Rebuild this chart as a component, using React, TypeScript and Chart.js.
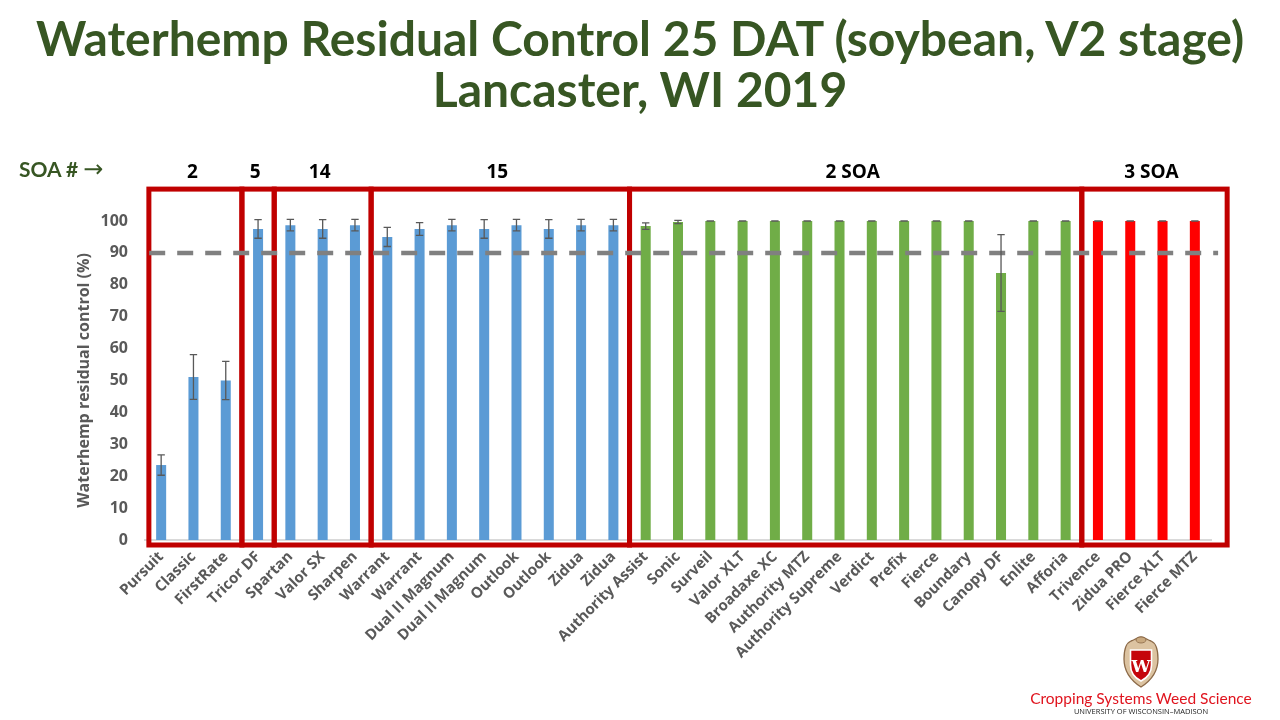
import React, { useEffect, useRef } from "react";
import { Chart, registerables } from "chart.js";

Chart.register(...registerables);

// ---------- data ----------
const categories = [
  "Pursuit", "Classic", "FirstRate", "Tricor DF", "Spartan", "Valor SX", "Sharpen",
  "Warrant", "Warrant", "Dual II Magnum", "Dual II Magnum", "Outlook", "Outlook", "Zidua", "Zidua",
  "Authority Assist", "Sonic", "Surveil", "Valor XLT", "Broadaxe XC", "Authority MTZ",
  "Authority Supreme", "Verdict", "Prefix", "Fierce", "Boundary", "Canopy DF", "Enlite", "Afforia",
  "Trivence", "Zidua PRO", "Fierce XLT", "Fierce MTZ",
];

const controlValues = [
  23.5, 51.1, 50, 97.5, 98.7, 97.5, 98.7, 95, 97.5, 98.7, 97.5, 98.7, 97.5, 98.7, 98.7,
  98.4, 99.7, 100, 100, 100, 100, 100, 100, 100, 100, 100, 83.7, 100, 100,
  100, 100, 100, 100,
];

const errorValues = [
  3.2, 7, 6, 2.9, 1.8, 2.9, 1.8, 3, 2, 1.8, 2.9, 1.8, 2.9, 1.8, 1.8,
  1, 0.5, 0, 0, 0, 0, 0, 0, 0, 0, 0, 12, 0, 0,
  0, 0, 0, 0,
];

const groupLabels = ["2", "5", "14", "15", "2 SOA", "3 SOA"];
const groupStart = [0, 3, 4, 7, 15, 29];
const groupEnd = [2, 3, 6, 14, 28, 32];

const thresholdValue = 90;
const yTicks = [0, 10, 20, 30, 40, 50, 60, 70, 80, 90, 100];

// ---------- styles ----------
const groupColors = ["#5B9BD5", "#5B9BD5", "#5B9BD5", "#5B9BD5", "#70AD47", "#FF0000"];
const BOX_COLOR = "#C00000";
const TITLE_GREEN = "#375623";
const AXIS_GRAY = "#595959";

const barColors = categories.map((_, i) => {
  let g = 0;
  groupStart.forEach((s, k) => {
    if (i >= s) g = k;
  });
  return groupColors[g];
});

const overlayPlugin = {
  id: "overlay",
  afterDatasetsDraw(chart: any) {
    const { ctx } = chart;
    const x = chart.scales.x;
    const y = chart.scales.y;
    ctx.save();

    // group boxes
    const boxTop = y.getPixelForValue(110);
    const boxBottom = y.getPixelForValue(0) + 5;
    ctx.strokeStyle = BOX_COLOR;
    ctx.lineWidth = 5;
    ctx.lineJoin = "miter";
    const last = groupStart.length - 1;
    groupStart.forEach((s, i) => {
      const l = x.getPixelForValue(i === 0 ? s - 0.38 : s - 0.5);
      const r = x.getPixelForValue(i === last ? groupEnd[i] + 1.0 : groupEnd[i] + 0.5);
      ctx.strokeRect(l, boxTop, r - l, boxBottom - boxTop);
      ctx.fillStyle = "#000";
      ctx.font = "bold 19px 'Open Sans'";
      ctx.textAlign = "center";
      ctx.textBaseline = "middle";
      ctx.fillText(groupLabels[i], (l + r) / 2 - 3, y.getPixelForValue(115.3));
    });

    // threshold dashed line
    const ty = y.getPixelForValue(thresholdValue);
    ctx.beginPath();
    ctx.setLineDash([16, 12]);
    ctx.lineCap = "butt";
    ctx.strokeStyle = "#808080";
    ctx.lineWidth = 4.5;
    ctx.moveTo(x.getPixelForValue(-0.37), ty);
    ctx.lineTo(x.getPixelForValue(32.72), ty);
    ctx.stroke();
    ctx.setLineDash([]);

    // error bars
    ctx.strokeStyle = "#595959";
    ctx.lineWidth = 1.3;
    controlValues.forEach((v, i) => {
      const e = errorValues[i];
      const cx = x.getPixelForValue(i);
      const yt = y.getPixelForValue(v + e);
      const yb = y.getPixelForValue(v - e);
      ctx.beginPath();
      ctx.moveTo(cx, yt);
      ctx.lineTo(cx, yb);
      ctx.moveTo(cx - 3.7, yt);
      ctx.lineTo(cx + 3.7, yt);
      ctx.moveTo(cx - 3.7, yb);
      ctx.lineTo(cx + 3.7, yb);
      ctx.stroke();
    });
    ctx.restore();
  },
};

function Crest() {
  return (
    <svg width="38" height="54" viewBox="0 0 38 54" style={{ position: "absolute", left: 1122, top: 635 }}>
      <path
        d="M19 2 C23 2 25 5 29 6 C34 8 36 15 36 24 C36 36 30 45 19 52 C8 45 2 36 2 24 C2 15 4 8 9 6 C13 5 15 2 19 2 Z"
        fill="#DCC3A1"
        stroke="#8C6A48"
        strokeWidth="1.3"
      />
      <ellipse cx="19" cy="5" rx="5" ry="3" fill="#C9A97F" stroke="#8C6A48" strokeWidth="0.8" />
      <path d="M8.5 15 H29.5 V30 C29.5 38 25 43 19 46 C13 43 8.5 38 8.5 30 Z" fill="#C5050C" stroke="#ffffff" strokeWidth="1.6" />
      <text x="19" y="37" textAnchor="middle" fill="#ffffff" fontFamily="'DejaVu Serif', serif" fontWeight="bold" fontSize="17">
        W
      </text>
    </svg>
  );
}

export default function App() {
  const canvasRef = useRef<HTMLCanvasElement | null>(null);

  useEffect(() => {
    if (!canvasRef.current) return;
    const chart = new Chart(canvasRef.current, {
      type: "bar",
      data: {
        labels: categories,
        datasets: [
          {
            data: controlValues,
            backgroundColor: barColors,
            borderWidth: 0,
            barPercentage: 0.31,
            categoryPercentage: 1,
          },
        ],
      },
      options: {
        animation: false,
        responsive: false,
        events: [],
        layout: { padding: { top: 221, right: 69, bottom: 0, left: 0 } },
        plugins: { legend: { display: false }, tooltip: { enabled: false }, title: { display: false } },
        scales: {
          x: {
            offset: true,
            grid: { display: false, drawTicks: false },
            border: { display: true, color: "#D9D9D9", width: 2 },
            ticks: {
              autoSkip: false,
              minRotation: 45,
              maxRotation: 45,
              padding: 8,
              color: AXIS_GRAY,
              font: { family: "'Open Sans'", weight: "bold", size: 15 },
            },
            afterFit: (s: any) => {
              s.height = 180;
            },
          },
          y: {
            min: 0,
            max: 100,
            grid: { display: false, drawTicks: false },
            border: { display: false },
            afterBuildTicks: (s: any) => {
              s.ticks = yTicks.map((v) => ({ value: v }));
            },
            ticks: {
              padding: 17,
              color: AXIS_GRAY,
              font: { family: "'Open Sans'", weight: "bold", size: 16 },
            },
            title: {
              display: true,
              text: "Waterhemp residual control (%)",
              color: AXIS_GRAY,
              font: { family: "'Open Sans'", weight: "bold", size: 16 },
              padding: { top: 75, bottom: 0 },
            },
            afterFit: (s: any) => {
              s.width = 145;
            },
          },
        },
      },
      plugins: [overlayPlugin],
    });
    return () => chart.destroy();
  }, []);

  return (
    <div style={{ position: "fixed", left: 0, top: 0, width: 1280, height: 720, background: "#fff", overflow: "hidden" }}>
      <canvas ref={canvasRef} width={1280} height={720} style={{ position: "absolute", left: 0, top: 0 }} />
      <div
        style={{
          position: "absolute",
          left: 0,
          top: 12,
          width: 1280,
          textAlign: "center",
          fontFamily: "Lato, sans-serif",
          fontWeight: "bold",
          fontSize: 48,
          lineHeight: "51px",
          color: TITLE_GREEN,
          whiteSpace: "nowrap",
        }}
      >
        <div>Waterhemp Residual Control 25 DAT (soybean, V2 stage)</div>
        <div>Lancaster, WI 2019</div>
      </div>
      <div
        style={{
          position: "absolute",
          left: 19,
          top: 155,
          fontFamily: "Lato, sans-serif",
          fontWeight: "bold",
          fontSize: 21,
          color: TITLE_GREEN,
          whiteSpace: "nowrap",
        }}
      >
        SOA # <span style={{ fontFamily: "'DejaVu Sans', sans-serif", fontSize: 24, fontWeight: "normal" }}>→</span>
      </div>
      <Crest />
      <div
        style={{
          position: "absolute",
          left: 1000,
          top: 688,
          width: 282,
          textAlign: "center",
          fontFamily: "Lato, sans-serif",
          fontSize: 15.5,
          lineHeight: "20px",
          color: "#E0141E",
          whiteSpace: "nowrap",
        }}
      >
        Cropping Systems Weed Science
      </div>
      <div
        style={{
          position: "absolute",
          left: 1000,
          top: 706,
          width: 282,
          textAlign: "center",
          fontFamily: "'Open Sans', sans-serif",
          fontSize: 7.5,
          lineHeight: "10px",
          color: "#222",
          whiteSpace: "nowrap",
        }}
      >
        UNIVERSITY OF WISCONSIN–MADISON
      </div>
    </div>
  );
}
